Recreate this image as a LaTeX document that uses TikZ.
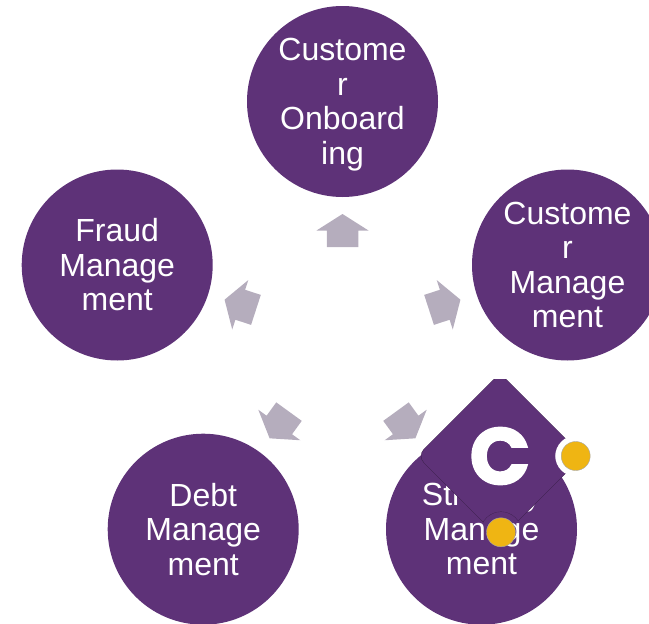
\documentclass[tikz,border=0pt]{standalone}
\usepackage{fontspec}
\setmainfont{Liberation Sans}
\newfontfamily\logofont[BoldFeatures={FakeBold=2}]{Poppins}
\definecolor{phasepurple}{HTML}{5E3278}
\definecolor{arrowgrey}{HTML}{B5ADBD}
\definecolor{dotyellow}{HTML}{EFB513}
\tikzset{
  phase/.style={circle, fill=phasepurple, text=white, minimum size=191pt, inner sep=0pt, align=center, font=\fontsize{32}{34.5}\selectfont},
  dot/.style={circle, fill=dotyellow, draw=black!35, line width=0.4pt, minimum size=29pt, inner sep=0pt},
}
\begin{document}
\begin{tikzpicture}[x=1pt, y=-1pt]
  \useasboundingbox (0,0) rectangle (649,624);
  \clip (0,0) rectangle (649,624);
  \node[phase] (onboarding) at (342.5,101.5) {Custome\\r\\Onboard\\\smash{ing}};
  \node[phase] (customer) at (567.5,265) {Custome\\r\\Manage\\ment};
  \node[phase] (strategy) at (481.5,529.2) {Strategy\\Manage\\ment};
  \node[phase] (debt) at (203.2,529.2) {Debt\\Manage\\ment};
  \node[phase] (fraud) at (117.2,265) {Fraud\\Manage\\ment};
  \foreach \a in {0,-72,...,-288} {
    \fill[arrowgrey, rotate around={\a:(342.5,338)}] (342.5,214) -- (368.5,230.5) -- (358.25,230.5) -- (358.25,247) -- (326.75,247) -- (326.75,230.5) -- (316.5,230.5) -- cycle;
  }
  \begin{scope}[even odd rule]
    \clip (0,379) rectangle (649,624) (575.7,456) circle (20.5) (501,532.3) circle (20.5);
    \draw[fill=phasepurple, draw=black!45!phasepurple, line width=0.3pt, rounded corners=10pt] (500,373) -- (583,456) -- (500,539) -- (417,456) -- cycle;
    \begin{scope}
      \clip (500,373) -- (583,456) -- (500,539) -- (417,456) -- cycle;
      \draw[black!45!phasepurple, line width=0.3pt] (501,532.3) circle (20.5);
    \end{scope}
  \end{scope}
  \node[text=white, inner sep=0pt, font=\fontsize{80}{80}\logofont\bfseries] (logo) at (500,456) {C};
  \node[dot] (dotright) at (575.7,456) {};
  \node[dot] (dotbottom) at (501,532.3) {};
\end{tikzpicture}
\end{document}
